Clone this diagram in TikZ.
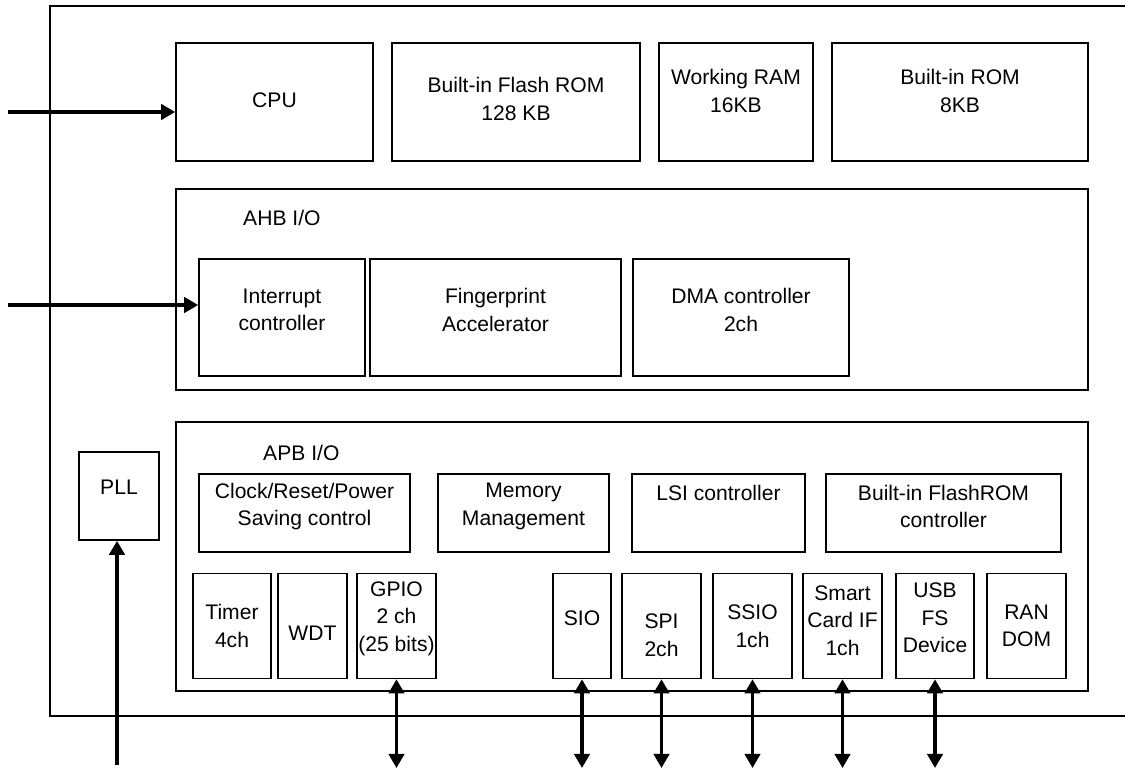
\documentclass[tikz,border=0pt]{standalone}
\usepackage{fontspec}
\setmainfont{Liberation Sans}
\usetikzlibrary{arrows.meta}

\tikzset{
  blk/.style={draw, line width=1.3pt, inner sep=0pt},
  sz/.style 2 args={minimum width=#1*0.03cm, minimum height=#2*0.03cm},
  txt/.style={align=center, inner sep=0pt, font=\fontsize{18}{23.5}\selectfont},
  lb/.style 2 args={label={[txt, yshift=#1*0.03cm]center:{#2}}},
  bus/.style={line width=3pt, -{Triangle[length=12pt,width=13pt]}},
  bio/.style={line width=3pt, {Triangle[length=12pt,width=13pt]}-{Triangle[length=12pt,width=13pt]}},
}

\begin{document}
\begin{tikzpicture}[x=0.03cm, y=-0.03cm]
  \useasboundingbox (0,0) rectangle (1125,769);

  % chip outline (open on the right)
  \draw[line width=1.4pt] (1125,6) -- (50,6) -- (50,716) -- (1125,716);

  % memories and CPU
  \node[blk, sz={197}{118}, lb={2}{CPU}] (cpu) at (274.5,102) {};
  \node[blk, sz={248}{118}, lb={3}{Built-in Flash ROM\\128 KB}] (flash) at (516,102) {};
  \node[blk, sz={154}{118}, lb={11}{Working RAM\\16KB}] (wram) at (736,102) {};
  \node[blk, sz={256}{118}, lb={11}{Built-in ROM\\8KB}] (brom) at (960,102) {};

  % AHB side
  \node[blk, sz={912}{201}] (ahb) at (632,289.5) {};
  \node[txt, anchor=west] (ahbt) at (243,218) {AHB I/O};
  \node[blk, sz={166}{117}, lb={7.5}{Interrupt\\controller}] (intc) at (282,317.5) {};
  \node[blk, sz={251}{117}, lb={7.5}{Fingerprint\\Accelerator}] (fpa) at (495.5,317.5) {};
  \node[blk, sz={216}{117}, lb={7.5}{DMA controller\\2ch}] (dma) at (741,317.5) {};

  % APB side
  \node[blk, sz={912}{269}] (apb) at (632,556.5) {};
  \node[txt, anchor=west] (apbt) at (263,453) {APB I/O};
  \node[blk, sz={211}{78}, lb={6.5}{Clock/Reset/Power\\Saving control}] (crp) at (304.5,513) {};
  \node[blk, sz={171}{78}, lb={6.5}{Memory\\Management}] (mem) at (523.5,513) {};
  \node[blk, sz={173}{78}, lb={20}{LSI controller}] (lsi) at (718.5,513) {};
  \node[blk, sz={235}{78}, lb={6.5}{Built-in FlashROM\\controller}] (fctl) at (943.5,513) {};

  \node[blk, sz={78}{105}, lb={0}{Timer\\4ch}] (timer) at (232,626) {};
  \node[blk, sz={69}{105}, lb={-7}{WDT}] (wdt) at (312.5,626) {};
  \node[blk, sz={79}{105}, lb={7.5}{GPIO\\2 ch\\(25 bits)}] (gpio) at (396.5,626) {};
  \node[blk, sz={58}{105}, lb={7.5}{SIO}] (sio) at (582,626) {};
  \node[blk, sz={79}{105}, lb={-9}{SPI\\2ch}] (spi) at (661.5,626) {};
  \node[blk, sz={79}{105}, lb={0}{SSIO\\1ch}] (ssio) at (752.5,626) {};
  \node[blk, sz={79}{105}, lb={5.5}{Smart\\Card IF\\1ch}] (scif) at (842.5,626) {};
  \node[blk, sz={78}{105}, lb={8}{USB\\FS\\Device}] (usb) at (935,626) {};
  \node[blk, sz={79}{105}, lb={0}{RAN\\DOM}] (rnd) at (1026.5,626) {};

  \node[blk, sz={80}{88}, lb={9}{PLL}] (pll) at (119,496) {};

  % inputs and pins
  \coordinate (cpuin) at (8,112);
  \coordinate (intin) at (8,305);
  \coordinate (pllin) at (117,765);
  \coordinate (pins) at (0,768);
  \draw[bus] (cpuin) -- (cpuin -| cpu.west);
  \draw[bus] (intin) -- (intin -| intc.west);
  \draw[bus] (pllin) -- (pllin |- pll.south);
  \foreach \n in {gpio,sio,spi,ssio,scif,usb}
    \draw[bio] (\n.south) -- (\n.south |- pins);
\end{tikzpicture}
\end{document}
